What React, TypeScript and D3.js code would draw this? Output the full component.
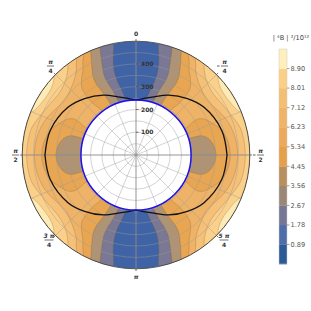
import React from "react";
import * as d3 from "d3";

// table of field "band position": rows = radius, cols = angle 0..90 every 5 degrees
const radii = [242, 270, 300, 330, 360, 390, 420, 450, 480, 500];
const fieldRows = [
  [.2,.5,.85,1.6,2.27,2.84,3.36,3.85,4.2,4.4,4.5,4.45,4.2,3.75,3.1,2.85,2.65,2.45,2.4],
  [.2,.5,.8,1.4,2.25,2.83,3.3,3.74,4.1,4.35,4.6,4.35,4.08,3.67,3.2,2.85,2.6,2.4,2.2],
  [.2,.5,.75,1.1,2.12,2.75,3.23,3.62,4,4.35,4.65,4.35,3.95,3.5,3.2,2.85,2.55,2.3,2.1],
  [.2,.5,.7,.97,1.85,2.6,3.18,3.6,4,4.35,4.7,4.35,4.03,3.7,3.45,3.15,2.85,2.7,2.6],
  [.2,.5,.65,.94,1.7,2.45,3.1,3.55,4.05,4.42,4.8,4.6,4.35,4.1,3.85,3.55,3.35,3.2,3.12],
  [.2,.5,.65,.95,1.75,2.5,3.15,3.65,4.1,4.45,4.85,4.85,4.7,4.45,4.1,3.9,3.75,3.6,3.55],
  [.2,.5,.7,1.02,1.9,2.7,3.33,3.9,5,5.4,5.7,5.5,5.25,4.95,4.6,4.35,4.2,4.08,4],
  [.2,.55,.75,1.14,2.03,2.9,3.6,5.1,5.75,6.2,6.45,6.6,6.35,6.08,5.75,5.5,5.3,5.2,5.15],
  [.2,.55,.8,1.3,2.13,3.12,4,5.55,6.2,6.65,7.1,7.28,7.25,7.1,6.45,6.05,6,6,6],
  [.2,.55,.8,1.4,2.3,3.25,5.1,5.9,6.5,7.03,7.4,7.75,7.7,7.4,6.95,6.8,6.7,6.6,6.5],
];
const bandThresholds = [1, 2, 3, 4, 5, 6, 7];
const bandColors = ["#7a7893", "#b09373", "#e8a652", "#efb368", "#f5c077", "#fbd08a", "#fdeab4"];
const baseColor = "#3f63a4";

const barTicks = [0.89, 1.78, 2.67, 3.56, 4.45, 5.34, 6.23, 7.12, 8.01, 8.9];
const barColors = ["#2c5a96", "#4f6da8", "#767795", "#9a8775", "#b98f5f", "#e6a04a", "#eca95a", "#f0b466", "#f4bf72", "#fbd084", "#fff0bb"];

const curveAngles = [0, 15.5, 28.6, 42.4, 55, 74, 90];
const curveRadii = [242, 264, 300, 335, 365, 392, 400];

const rTicks = [100, 200, 300, 400];
const rRings = [50, 100, 150, 200, 250, 300, 350, 400, 450];
const innerR = 242;
const outerR = 500;

const cx = 136, cy = 155;
const rs = d3.scaleLinear().domain([0, outerR]).range([0, 113.8]);
const pt = (deg: number, r: number): [number, number] => {
  const a = (deg * Math.PI) / 180;
  return [cx + rs(r) * Math.sin(a), cy - rs(r) * Math.cos(a)];
};

// resample the table onto a fine polar raster and soften it, so the contours come out round
const nCols = 361;
const nRows = 53;
const rAt = d3.scaleLinear().domain([0, nRows - 1]).range([innerR, outerR]);
const rowPos = d3.scaleLinear().domain(radii).range(radii.map((_, i) => i));
const fine = new Float64Array(nCols * nRows);
for (let j = 0; j < nRows; j++) {
  const rp = Math.min(radii.length - 1.0001, Math.max(0, rowPos(rAt(j))));
  const r0 = Math.floor(rp);
  const fr = rp - r0;
  for (let i = 0; i < nCols; i++) {
    const t = i % 180;
    const f = (t > 90 ? 180 - t : t) / 5;
    const c0 = Math.min(17, Math.floor(f));
    const fc = f - c0;
    const a = fieldRows[r0][c0] * (1 - fc) + fieldRows[r0][c0 + 1] * fc;
    const b = fieldRows[r0 + 1][c0] * (1 - fc) + fieldRows[r0 + 1][c0 + 1] * fc;
    fine[i + j * nCols] = a * (1 - fr) + b * fr;
  }
}
d3.blur2({ data: fine, width: nCols, height: nRows }, 2, 2);

const clampT = (x: number) => Math.max(0, Math.min(360, x));
const clampRow = (y: number) => Math.max(0, Math.min(nRows - 1, y));
const contourGen = d3.contours().size([nCols, nRows]).smooth(true).thresholds(bandThresholds);
const contourPaths = contourGen(Array.from(fine)).map((c) =>
  c.coordinates
    .map((poly) =>
      poly
        .map((ring) => {
          const p = ring.map(([x, y]) => pt(clampT(x - 0.5), rAt(clampRow(y - 0.5))));
          return "M" + p.map((q) => q[0].toFixed(2) + "," + q[1].toFixed(2)).join("L") + "Z";
        })
        .join("")
    )
    .join("")
);

// black curve, one arc per quadrant
const curveSegments = [0, 1, 2, 3].map((q) => {
  const order = curveAngles.map((_, i) => (q % 2 === 0 ? i : curveAngles.length - 1 - i));
  const pts = order.map(
    (i) => [q * 90 + (q % 2 === 0 ? curveAngles[i] : 90 - curveAngles[i]), curveRadii[i]] as [number, number]
  );
  return d3
    .lineRadial<[number, number]>()
    .angle((d) => (d[0] * Math.PI) / 180)
    .radius((d) => rs(d[1]))
    .curve(d3.curveCatmullRom)(pts) as string;
});

const barScale = d3.scaleLinear().domain([0, 9.79]).range([264, 49]);
const barEdges = [0, ...barTicks, 9.79];

const FONT = "DejaVu Sans";

function Frac({ x, y, num, den, w = 7 }: { x: number; y: number; num: string; den: string; w?: number }) {
  return (
    <g fontFamily={FONT} fontSize={6} fontWeight={700} fill="#333" textAnchor="middle">
      <text x={x} y={y - 2.5} fontStyle="italic">{num}</text>
      <line x1={x - w / 2} x2={x + w / 2} y1={y} y2={y} stroke="#333" strokeWidth={0.7} />
      <text x={x} y={y + 7}>{den}</text>
    </g>
  );
}

export default function App() {
  const spokes = d3.range(0, 360, 22.5);
  const tickAngles = d3.range(0, 360, 45);
  return (
    <svg width={311} height={311} style={{ position: "absolute", left: 0, top: 0, background: "#fff" }}>
      <defs>
        <clipPath id="outer">
          <circle cx={cx} cy={cy} r={rs(outerR)} />
        </clipPath>
      </defs>
      <g clipPath="url(#outer)">
        <circle cx={cx} cy={cy} r={rs(outerR)} fill={baseColor} />
        {contourPaths.map((d, i) => (
          <path key={i} d={d} fill={bandColors[i]} fillRule="evenodd" stroke="#6e5a3c" strokeOpacity={0.35} strokeWidth={0.7} />
        ))}
      </g>
      <circle cx={cx} cy={cy} r={rs(innerR)} fill="#fff" />
      <g stroke="#999" strokeOpacity={0.55} strokeWidth={0.8} fill="none">
        {rRings.map((r) => (
          <circle key={r} cx={cx} cy={cy} r={rs(r)} />
        ))}
        {spokes.map((a) => {
          const p = pt(a, outerR);
          return <line key={a} x1={cx} y1={cy} x2={p[0]} y2={p[1]} />;
        })}
      </g>
      <g stroke="#888" strokeOpacity={0.7} strokeWidth={0.9}>
        <line x1={cx} x2={cx} y1={cy - rs(outerR)} y2={cy + rs(outerR)} />
        <line x1={cx - rs(outerR)} x2={cx + rs(outerR)} y1={cy} y2={cy} />
      </g>
      <g transform={`translate(${cx},${cy})`} fill="none" stroke="#111" strokeWidth={1.3}>
        {curveSegments.map((d, i) => (
          <path key={i} d={d} />
        ))}
      </g>
      <circle cx={cx} cy={cy} r={rs(innerR)} fill="none" stroke="#1a10f0" strokeWidth={1.5} />
      <circle cx={cx} cy={cy} r={rs(outerR)} fill="none" stroke="#444" strokeWidth={0.9} />
      <g stroke="#444" strokeWidth={0.7}>
        {tickAngles.map((a) => {
          const p0 = pt(a, outerR);
          const p1 = pt(a, outerR + 10);
          return <line key={a} x1={p0[0]} y1={p0[1]} x2={p1[0]} y2={p1[1]} />;
        })}
        {rTicks.map((r) => {
          const p = pt(0, r);
          return <line key={r} x1={p[0]} x2={p[0] + 2.5} y1={p[1]} y2={p[1]} />;
        })}
      </g>
      <g fontFamily={FONT} fontSize={6} fontWeight={700} fill="#333">
        {rTicks.map((r) => {
          const p = pt(0, r);
          return (
            <text key={r} x={p[0] + 5} y={p[1] + 2.2}>
              {r}
            </text>
          );
        })}
        <text x={136} y={36} textAnchor="middle">0</text>
        <text x={136} y={279} textAnchor="middle" fontStyle="italic">π</text>
      </g>
      <Frac x={50.5} y={66} num="π" den="4" />
      <Frac x={15.5} y={155} num="π" den="2" />
      <Frac x={49} y={240} num="3 π" den="4" w={9} />
      <Frac x={224} y={240} num="5 π" den="4" w={9} />
      <Frac x={224.5} y={66} num="π" den="4" />
      <Frac x={260.5} y={155} num="π" den="2" />
      <g stroke="#333" strokeWidth={0.8}>
        <line x1={217} x2={219.5} y1={66} y2={66} />
        <line x1={253} x2={255.5} y1={155} y2={155} />
      </g>
      <text x={291} y={39.5} fontFamily={FONT} fontSize={6.6} textAnchor="middle" fill="#444" xmlSpace="preserve">| ⁴B | ²/10¹²</text>
      {barColors.map((c, i) => (
        <rect key={i} x={279} width={8} y={barScale(barEdges[i + 1])} height={barScale(barEdges[i]) - barScale(barEdges[i + 1]) + 0.3} fill={c} />
      ))}
      <rect x={279} y={49} width={8} height={215} fill="none" stroke="#ccc" strokeWidth={0.5} />
      {barTicks.map((t) => (
        <g key={t}>
          <line x1={287} x2={289.5} y1={barScale(t)} y2={barScale(t)} stroke="#666" strokeWidth={0.6} />
          <text x={290.5} y={barScale(t) + 2.3} fontFamily={FONT} fontSize={6.6} fill="#555">
            {t.toFixed(2)}
          </text>
        </g>
      ))}
    </svg>
  );
}
